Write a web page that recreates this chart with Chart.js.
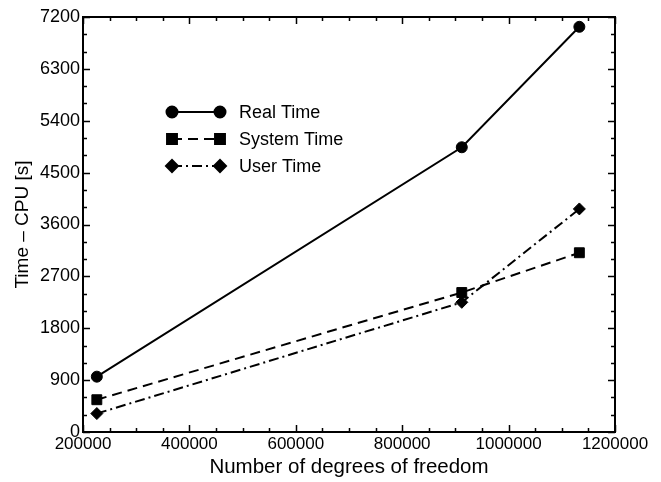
<!DOCTYPE html>
<html>
<head>
<meta charset="utf-8">
<script src="https://cdn.jsdelivr.net/npm/chart.js@4"></script>
<style>
  html, body { margin: 0; padding: 0; background: #fff; }
  #wrap { width: 661px; height: 482px; }
</style>
</head>
<body>
<div id="wrap"><canvas id="c" width="661" height="482"></canvas></div>
<script>
const dof = [226000, 912000, 1133000];
const realTime = [960, 4940, 7030];
const systemTime = [560, 2420, 3110];
const userTime = [320, 2250, 3870];
const seriesNames = ['Real Time', 'System Time', 'User Time'];
const xTitle = 'Number of degrees of freedom';
const yTitle = 'Time \u2013 CPU [s]';

const FONT = "'Liberation Sans', Arial, Helvetica, sans-serif";

function pts(ys) { return dof.map((x, i) => ({ x: x, y: ys[i] })); }

const framePlugin = {
  id: 'frame',
  afterDraw(chart) {
    const ctx = chart.ctx;
    const a = chart.chartArea;
    const xs = chart.scales.x, ys = chart.scales.y;
    ctx.save();
    ctx.strokeStyle = '#000';
    ctx.lineWidth = 1.5;
    xs.ticks.forEach(t => {
      const px = Math.round(xs.getPixelForValue(t.value)) + 0.5;
      const major = t.value % 200000 === 0;
      const len = major ? 7 : 4;
      ctx.beginPath();
      ctx.moveTo(px, a.bottom); ctx.lineTo(px, a.bottom - len);
      ctx.moveTo(px, a.top); ctx.lineTo(px, a.top + len);
      ctx.stroke();
    });
    ys.ticks.forEach(t => {
      const py = Math.round(ys.getPixelForValue(t.value)) + 0.5;
      const major = t.value % 900 === 0;
      const len = major ? 7 : 4;
      ctx.beginPath();
      ctx.moveTo(a.left, py); ctx.lineTo(a.left + len, py);
      ctx.moveTo(a.right, py); ctx.lineTo(a.right - len, py);
      ctx.stroke();
    });
    ctx.lineWidth = 2;
    ctx.strokeRect(a.left, a.top, a.right - a.left, a.bottom - a.top);

    // legend
    const lx0 = 172, lx1 = 220, tx = 239;
    const rowsY = [112, 139, 166];
    chart.data.datasets.forEach((ds, i) => {
      const y = rowsY[i];
      ctx.save();
      ctx.strokeStyle = '#000';
      ctx.lineWidth = ds.borderWidth;
      ctx.setLineDash(ds.borderDash || []);
      ctx.beginPath();
      ctx.moveTo(lx0, y); ctx.lineTo(lx1, y);
      ctx.stroke();
      ctx.restore();
      const opts = { pointStyle: ds.pointStyle, radius: ds.pointRadius, rotation: 0, borderWidth: 1 };
      ctx.fillStyle = '#000'; ctx.strokeStyle = '#000';
      Chart.helpers.drawPoint(ctx, opts, lx0, y);
      Chart.helpers.drawPoint(ctx, opts, lx1, y);
      ctx.fillStyle = '#000';
      ctx.font = '18px ' + FONT;
      ctx.textBaseline = 'middle';
      ctx.textAlign = 'left';
      ctx.fillText(ds.label, tx, y + 1);
    });
    ctx.restore();
  }
};

const common = { borderColor: '#000', backgroundColor: '#000', pointBackgroundColor: '#000', pointBorderColor: '#000', borderWidth: 2, pointBorderWidth: 1, tension: 0 };

new Chart(document.getElementById('c'), {
  type: 'line',
  data: {
    datasets: [
      Object.assign({}, common, { label: seriesNames[0], data: pts(realTime), pointStyle: 'circle', pointRadius: 5.5 }),
      Object.assign({}, common, { label: seriesNames[1], data: pts(systemTime), pointStyle: 'rect', pointRadius: 7, borderDash: [10, 6] }),
      Object.assign({}, common, { label: seriesNames[2], data: pts(userTime), pointStyle: 'rectRot', pointRadius: 6, borderDash: [10, 4, 2, 4] })
    ]
  },
  options: {
    responsive: false,
    animation: false,
    devicePixelRatio: 1,
    layout: { padding: { left: 0, right: 46, top: 17, bottom: 0 } },
    plugins: { legend: { display: false }, tooltip: { enabled: false } },
    scales: {
      x: {
        type: 'linear',
        min: 200000, max: 1200000,
        grid: { display: false, drawTicks: false },
        border: { display: false },
        ticks: {
          stepSize: 50000,
          autoSkip: false,
          maxRotation: 0,
          padding: 2,
          color: '#000',
          font: { family: FONT, size: 17 },
          callback: v => (v % 200000 === 0 ? String(v) : '')
        },
        title: { display: true, text: xTitle, color: '#000', font: { family: FONT, size: 20.5 }, padding: { top: 0, bottom: 2 } },
        afterFit: s => { s.height = 50; }
      },
      y: {
        type: 'linear',
        min: 0, max: 7200,
        grid: { display: false, drawTicks: false },
        border: { display: false },
        ticks: {
          stepSize: 300,
          autoSkip: false,
          padding: 3,
          color: '#000',
          font: { family: FONT, size: 18 },
          callback: v => (v % 900 === 0 ? String(v) : '')
        },
        title: { display: true, text: yTitle, color: '#000', font: { family: FONT, size: 19 }, padding: { top: 11, bottom: 0 } },
        afterFit: s => { s.width = 83; }
      }
    }
  },
  plugins: [framePlugin]
});
</script>
</body>
</html>
